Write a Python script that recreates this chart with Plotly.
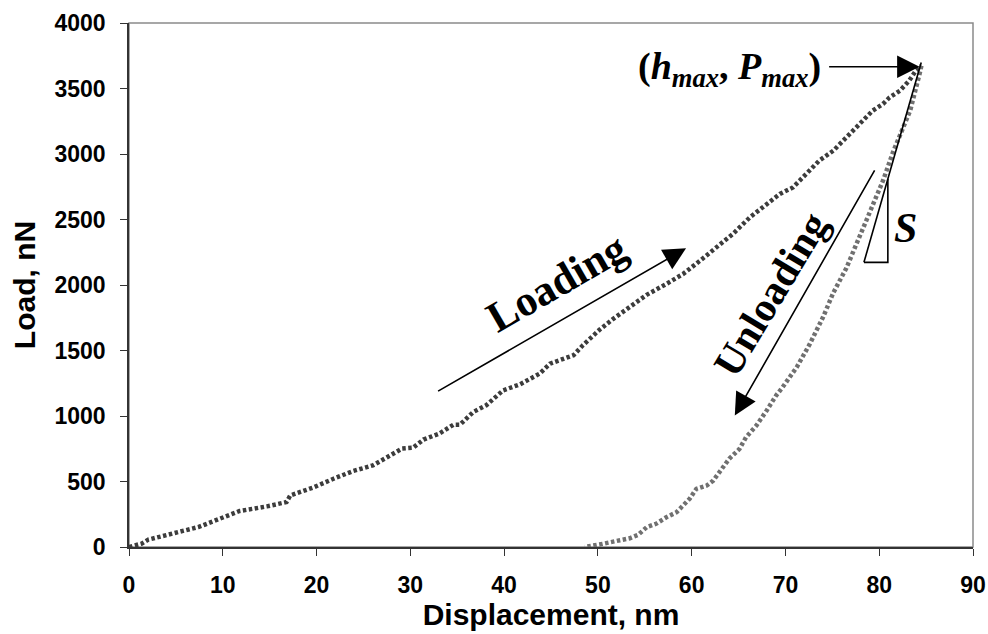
import plotly.graph_objects as go

# ---- data ----
load_x = [0, 1.35, 2.06, 3.3, 5.26, 7.39, 9.35, 10.6, 11.8, 14.7, 16.1, 16.8, 17.2, 19.6,
          21.8, 23.9, 26.0, 27.5, 29.1, 30.3, 31.4, 33.1, 34.6, 35.3, 36.7, 38.1, 39.9,
          41.7, 43.8, 44.9, 47.4, 48.4, 49.5, 50.2, 51.6, 53.7, 55.2, 57.3, 59.1, 60.9,
          62.6, 64.4, 66.2, 67.96, 69.4, 70.8, 72.2, 73.6, 75.1, 76.5, 77.9, 79.3, 80.4,
          81.1, 82.2, 83.2, 83.9, 84.5]
load_y = [0, 26, 56, 81, 114, 152, 209, 242, 275, 310, 331, 343, 394, 453,
          521, 580, 623, 687, 751, 758, 820, 866, 934, 934, 1030, 1082, 1196,
          1242, 1324, 1400, 1464, 1540, 1617, 1660, 1740, 1850, 1925, 2008, 2085, 2186,
          2288, 2390, 2516, 2619, 2695, 2745, 2848, 2949, 3025, 3127, 3229, 3331, 3382,
          3432, 3483, 3560, 3636, 3674]

unload_x = [84.5, 84.3, 83.3, 82.4, 81.5, 80.4, 79.3, 77.9, 76.5, 75.1, 74.0, 72.6, 71.2,
            69.7, 69.0, 68.0, 66.9, 65.8, 65.1, 64.0, 63.3, 62.3, 61.6, 60.5, 59.8, 58.4,
            57.3, 56.2, 55.2, 54.3, 53.4, 52.0, 50.5, 49.5, 48.6]
unload_y = [3674, 3610, 3331, 3170, 3020, 2796, 2610, 2360, 2130, 1940, 1753, 1550, 1372,
            1220, 1156, 1042, 927, 838, 749, 673, 609, 507, 469, 444, 370, 266,
            227, 177, 151, 93, 67, 42, 24, 11, 0]

x_ticks = [0, 10, 20, 30, 40, 50, 60, 70, 80, 90]
y_ticks = [0, 500, 1000, 1500, 2000, 2500, 3000, 3500, 4000]

SANS = "Liberation Sans, Arial, sans-serif"
SERIF = "Liberation Serif, Times New Roman, serif"

fig = go.Figure()
fig.add_trace(go.Scatter(x=load_x, y=load_y, mode="lines",
                         line=dict(color="#3c3c3c", width=4.5, dash="3.5px,2.5px"),
                         showlegend=False, hoverinfo="skip"))
fig.add_trace(go.Scatter(x=unload_x, y=unload_y, mode="lines",
                         line=dict(color="#707070", width=4.5, dash="3.5px,2.5px"),
                         showlegend=False, hoverinfo="skip"))

# frame (top/right gray)
fig.add_shape(type="rect", xref="paper", yref="paper", x0=0, x1=1, y0=0, y1=1,
              line=dict(color="#8a8a8a", width=1.5), layer="below")

# tangent line and slope triangle
fig.add_shape(type="line", x0=84.48, y0=3699, x1=78.37, y1=2173,
              line=dict(color="black", width=1.6))
fig.add_shape(type="path", path="M 78.37 2173 L 80.92 2173 L 80.92 2810",
              line=dict(color="black", width=1.6))

arrow_kw = dict(showarrow=True, arrowhead=2, arrowsize=2.8, arrowwidth=1.6,
                arrowcolor="black", text="", axref="x", ayref="y", standoff=0)
fig.add_annotation(x=59.4, y=2280, ax=32.8, ay=1183, **arrow_kw)
fig.add_annotation(x=64.6, y=1004, ax=79.6, ay=2886, **arrow_kw)
fig.add_annotation(x=84.3, y=3666, ax=74.5, ay=3666, **arrow_kw)

fig.add_annotation(x=45.6, y=2020, text="<b>Loading</b>", textangle=-30, showarrow=False,
                   font=dict(family=SERIF, size=43, color="black"))
fig.add_annotation(x=68.4, y=1934, text="<b>Unloading</b>", textangle=-59, showarrow=False,
                   font=dict(family=SERIF, size=41, color="black"))
fig.add_annotation(x=74.0, y=3650, xanchor="right", yanchor="middle",
                   text="<b>(<i>h</i><sub><i>max</i></sub>, <i>P</i><sub><i>max</i></sub>)</b>",
                   showarrow=False, font=dict(family=SERIF, size=38, color="black"))
fig.add_annotation(x=82.8, y=2438, text="<b><i>S</i></b>", showarrow=False,
                   font=dict(family=SERIF, size=42, color="black"))

fig.update_xaxes(range=[0, 90], tickvals=x_ticks, ticktext=[str(v) for v in x_ticks],
                 showgrid=False, zeroline=False, showline=True, linecolor="#333333", linewidth=1.5,
                 ticks="outside", ticklen=7, tickwidth=1.3, tickcolor="#333333",
                 ticklabelstandoff=10,
                 tickfont=dict(family=SANS, size=23, color="black", weight="bold"),
                 title=dict(text="Displacement, nm", standoff=0,
                            font=dict(family=SANS, size=30, color="black", weight="bold")))
fig.update_yaxes(range=[0, 4000], tickvals=y_ticks, ticktext=[str(v) for v in y_ticks],
                 showgrid=False, zeroline=False, showline=True, linecolor="#333333", linewidth=1.5,
                 ticks="outside", ticklen=7, tickwidth=1.3, tickcolor="#333333",
                 ticklabelstandoff=10,
                 tickfont=dict(family=SANS, size=23, color="black", weight="bold"),
                 title=dict(text="Load, nN", standoff=10,
                            font=dict(family=SANS, size=30, color="black", weight="bold")))

fig.update_layout(width=988, height=634, paper_bgcolor="white", plot_bgcolor="white",
                  margin=dict(l=129, r=15, t=23, b=87, autoexpand=False))

fig.write_html("out.html")
